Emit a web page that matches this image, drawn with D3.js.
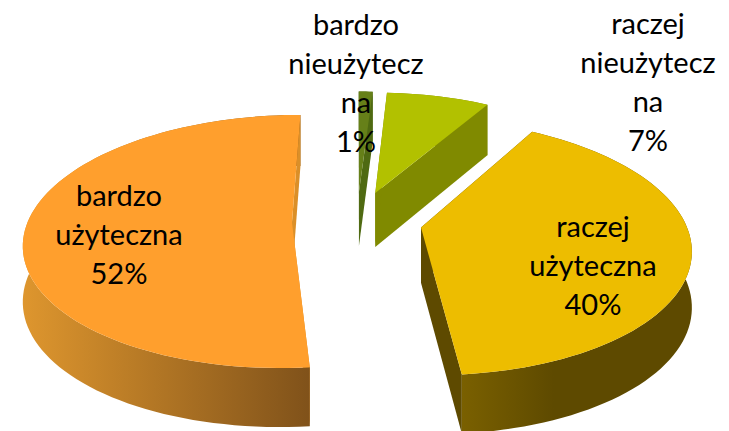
<!DOCTYPE html>
<html>
<head>
<meta charset="utf-8">
<script src="https://cdn.jsdelivr.net/npm/d3@7"></script>
<style>
  html, body { margin: 0; background: #fff; overflow: hidden; }
  text { font-family: Lato, "Open Sans", sans-serif; fill: #000; }
</style>
</head>
<body>
<script>
// clockwise from the top of the pie
const categories = ["bardzo nieużyteczna", "raczej nieużyteczna", "raczej użyteczna", "bardzo użyteczna"]
const values = [1, 7.4, 40.1, 51.5]
const labelLines = [
  ["bardzo", "nieużytecz", "na", "1%"],
  ["raczej", "nieużytecz", "na", "7%"],
  ["raczej", "użyteczna", "40%"],
  ["bardzo", "użyteczna", "52%"]
]
const topColors = ["#668019", "#B2C100", "#EDBD00", "#FF9F2D"]
const cutColors = ["#4F6A12", "#808A00", "#5E4A00", "#DB8F28"]
const wallStops = [
  ["#4F6A12", "#4F6A12"],
  ["#808A00", "#808A00"],
  ["#7A6000", "#5E4A00"],
  ["#DE962E", "#80521A"]
]
const labelX = [356, 648, 593, 119]
const labelY = [25, 24, 227, 196]

const WIDTH = 729
const HEIGHT = 431
const CX = 357
const CY = 221
const RADIUS = 264
const EXPLODE = 65
const TILT = 0.467
const PERSPECTIVE = 0.15
const LINE_HEIGHT = 39

let toRadians = function (deg) {
  return deg * (Math.PI / 180)
}

// flat pie plane -> screen, y grows toward the viewer
let yNorm = d3.scaleLinear().domain([-RADIUS, RADIUS]).range([-1, 1])
let depth = d3.scaleLinear().domain([-RADIUS, RADIUS]).range([51, 59])
let project = function (px, py, lowered) {
  const s = 1 / (1 - PERSPECTIVE * yNorm(py))
  return [CX + px * s, CY + py * TILT * s + (lowered ? depth(py) : 0)]
}

const pie = d3.pie().sort(null)
  .startAngle(0)
  .endAngle(2 * Math.PI)
const slices = pie(values)
const line = d3.line()

var svg = d3.select("body").append("svg")
  .attr("width", WIDTH)
  .attr("height", HEIGHT)

var defs = svg.append("defs")
slices.forEach(function (d, i) {
  var grad = defs.append("linearGradient").attr("id", "wall" + i)
  grad.append("stop").attr("offset", "0%").attr("stop-color", wallStops[i][0])
  grad.append("stop").attr("offset", i === 2 ? "40%" : "100%").attr("stop-color", wallStops[i][1])
})

let apex = function (d) {
  const mid = (d.startAngle + d.endAngle) / 2
  return [EXPLODE * Math.sin(mid), -EXPLODE * Math.cos(mid)]
}
let rimPoint = function (d, a) {
  const o = apex(d)
  return [o[0] + RADIUS * Math.sin(a), o[1] - RADIUS * Math.cos(a)]
}
let rim = function (d) {
  const n = Math.max(4, Math.ceil((d.endAngle - d.startAngle) / toRadians(2)))
  return d3.range(n + 1).map(i => rimPoint(d, d.startAngle + (d.endAngle - d.startAngle) * i / n))
}

// back slices first so the front ones sit over them
slices.forEach(function (d, i) {
  const g = svg.append("g")
  const o = apex(d)
  const edge = rim(d)
  const first = edge[0]
  const last = edge[edge.length - 1]
  const front = first[1] > last[1] ? first : last
  const back = first[1] > last[1] ? last : first

  let cutFace = function (p) {
    g.append("path")
      .attr("fill", cutColors[i])
      .attr("d", line([
        project(o[0], o[1], false), project(p[0], p[1], false),
        project(p[0], p[1], true), project(o[0], o[1], true)
      ]) + "Z")
  }

  cutFace(front)

  // outer wall
  const wall = edge.map(p => project(p[0], p[1], false))
    .concat(edge.slice().reverse().map(p => project(p[0], p[1], true)))
  g.append("path")
    .attr("fill", "url(#wall" + i + ")")
    .attr("d", line(wall) + "Z")

  cutFace(back)

  // top face
  const face = [project(o[0], o[1], false)].concat(edge.map(p => project(p[0], p[1], false)))
  g.append("path")
    .attr("fill", topColors[i])
    .attr("d", line(face) + "Z")
})

// labels
labelLines.forEach(function (lines, i) {
  const t = svg.append("text")
    .attr("text-anchor", "middle")
    .attr("font-size", 29)
  lines.forEach(function (s, j) {
    t.append("tspan")
      .attr("x", labelX[i])
      .attr("y", labelY[i] + j * LINE_HEIGHT)
      .attr("dy", "0.36em")
      .text(s)
  })
})
</script>
</body>
</html>
